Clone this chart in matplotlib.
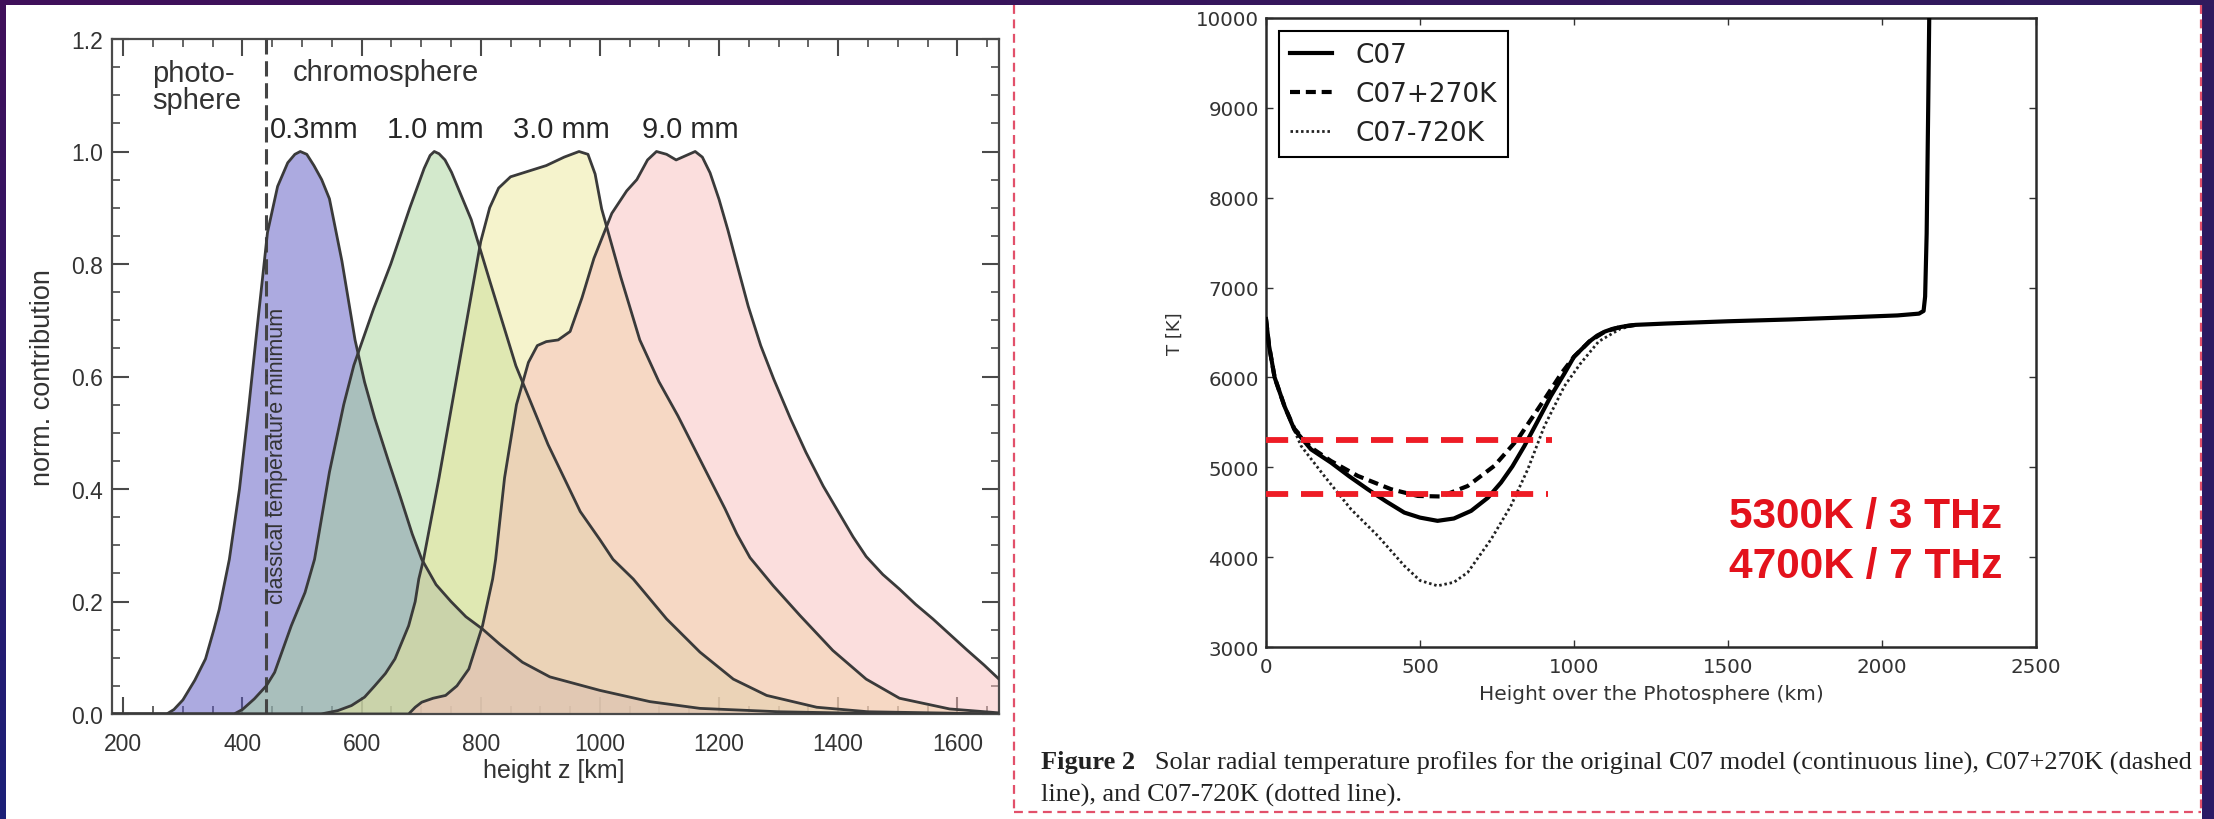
import numpy as np
import matplotlib
matplotlib.use("Agg")
import matplotlib.pyplot as plt
from matplotlib.patches import Rectangle
from matplotlib.ticker import MultipleLocator, FormatStrFormatter

# ---------------- data: normalised contribution functions ----------------
band_labels = ["0.3mm", "1.0 mm", "3.0 mm", "9.0 mm"]

h_03 = [180, 273, 285, 300, 320, 338, 352, 361, 378, 395, 410, 425, 442, 459, 476,
        488, 497, 508, 520, 533, 546, 567, 589, 605, 622, 645, 665, 685, 701, 725,
        750, 775, 803, 832, 870, 916, 1000, 1084, 1168, 1300, 1450, 1670]
c_03 = [0, 0, 0.008, 0.025, 0.06, 0.098, 0.15, 0.186, 0.275, 0.40, 0.54, 0.69,
        0.856, 0.938, 0.98, 0.995, 1.0, 0.995, 0.975, 0.95, 0.916, 0.805, 0.665,
        0.59, 0.526, 0.45, 0.386, 0.32, 0.275, 0.23, 0.2, 0.173, 0.151, 0.124,
        0.092, 0.066, 0.042, 0.022, 0.01, 0.004, 0.001, 0]

h_10 = [180, 386, 400, 420, 440, 454, 482, 505, 521, 546, 570, 587, 620, 649, 681,
        705, 715, 722, 730, 740, 751, 784, 816, 859, 913, 967, 1000, 1022, 1056,
        1112, 1168, 1224, 1280, 1364, 1450, 1670]
c_10 = [0, 0, 0.008, 0.027, 0.05, 0.074, 0.157, 0.216, 0.275, 0.43, 0.55, 0.62,
        0.72, 0.80, 0.90, 0.97, 0.993, 1.0, 0.996, 0.985, 0.963, 0.879, 0.767,
        0.619, 0.479, 0.36, 0.31, 0.275, 0.24, 0.169, 0.11, 0.062, 0.033, 0.012,
        0.004, 0]

h_30 = [180, 532, 560, 583, 605, 622, 640, 656, 679, 690, 696, 704, 730, 755, 780,
        800, 815, 830, 850, 880, 910, 940, 965, 980, 992, 1003, 1035, 1067, 1099,
        1131, 1174, 1210, 1230, 1252, 1291, 1336, 1391, 1447, 1503, 1587, 1670]
c_30 = [0, 0, 0.006, 0.015, 0.03, 0.05, 0.072, 0.098, 0.157, 0.2, 0.24, 0.275,
        0.42, 0.57, 0.72, 0.84, 0.9, 0.935, 0.955, 0.965, 0.975, 0.99, 1.0, 0.995,
        0.96, 0.898, 0.777, 0.665, 0.591, 0.53, 0.44, 0.365, 0.32, 0.278, 0.228,
        0.175, 0.113, 0.062, 0.028, 0.009, 0.002]

h_90 = [180, 679, 690, 701, 720, 741, 760, 780, 803, 820, 825, 840, 860, 880, 895,
        910, 930, 950, 970, 990, 1020, 1045, 1062, 1080, 1095, 1112, 1128, 1145,
        1160, 1172, 1185, 1200, 1215, 1230, 1249, 1270, 1292, 1320, 1346, 1375,
        1400, 1425, 1447, 1475, 1503, 1530, 1559, 1587, 1615, 1645, 1670]
c_90 = [0, 0, 0.012, 0.021, 0.028, 0.033, 0.05, 0.08, 0.157, 0.24, 0.275, 0.42,
        0.55, 0.625, 0.655, 0.662, 0.665, 0.68, 0.74, 0.81, 0.89, 0.93, 0.95,
        0.985, 1.0, 0.995, 0.985, 0.993, 1.0, 0.99, 0.962, 0.915, 0.86, 0.80,
        0.725, 0.655, 0.595, 0.525, 0.465, 0.405, 0.36, 0.315, 0.28, 0.248,
        0.222, 0.195, 0.169, 0.142, 0.115, 0.087, 0.062]

temp_min_height = 440

# ---------------- data: C07 temperature profiles ----------------
c07_h = [0, 10, 28, 60, 92, 146, 211, 270, 330, 390, 449, 500, 557, 610, 666, 720,
         763, 800, 839, 880, 925, 970, 1000, 1050, 1075, 1100, 1125, 1150, 1175,
         1200, 1300, 1500, 1700, 1900, 2050, 2120, 2135, 2140, 2145, 2150, 2155]
c07_T = [6650, 6350, 6000, 5680, 5420, 5200, 5052, 4900, 4756, 4620, 4496, 4440,
         4404, 4430, 4515, 4660, 4830, 5010, 5237, 5500, 5793, 6050, 6230, 6400,
         6465, 6510, 6540, 6560, 6575, 6585, 6600, 6625, 6645, 6670, 6690, 6710,
         6740, 6900, 7600, 9000, 10500]

c07p_h = [0, 10, 28, 60, 92, 146, 211, 298, 406, 493, 568, 655, 741, 817, 904,
          960, 1000, 1050, 1100, 1150, 1200]
c07p_T = [6650, 6350, 6000, 5680, 5430, 5220, 5070, 4904, 4756, 4681, 4675, 4792,
          5015, 5311, 5756, 6050, 6230, 6400, 6510, 6560, 6585]

c07m_h = [0, 10, 28, 60, 92, 114, 189, 276, 363, 449, 500, 557, 610, 655, 731,
          795, 850, 904, 969, 1020, 1080, 1150, 1200]
c07m_T = [6650, 6350, 6000, 5680, 5410, 5237, 4904, 4533, 4237, 3904, 3740, 3681,
          3720, 3830, 4200, 4570, 4978, 5459, 5904, 6150, 6400, 6540, 6585]

tb_levels = [5300, 4700]
tb_freqs = ["3 THz", "7 THz"]
tb_extent = [930, 915]

# ---------------- figure & slide background ----------------
W, H = 2214, 820
fig = plt.figure(figsize=(W / 100, H / 100), dpi=100)


def box(x0, y0, x1, y1):
    return [x0 / W, 1 - y1 / H, (x1 - x0) / W, (y1 - y0) / H]


bg = fig.add_axes([0, 0, 1, 1])
bg.set_xlim(0, W)
bg.set_ylim(H, 0)
bg.axis("off")
tl = np.array([0x40, 0x10, 0x5a]) / 255
bl = np.array([0x1c, 0x20, 0x78]) / 255
tr = np.array([0x2f, 0x1b, 0x5e]) / 255
br = np.array([0x2a, 0x1a, 0x66]) / 255
gy, gx = np.mgrid[0:1:60j, 0:1:120j]
grad = ((1 - gx)[..., None] * ((1 - gy)[..., None] * tl + gy[..., None] * bl)
        + gx[..., None] * ((1 - gy)[..., None] * tr + gy[..., None] * br))
bg.imshow(grad, extent=(0, W, H, 0), aspect="auto", interpolation="bilinear")
bg.add_patch(Rectangle((6, 6), 1009, H, facecolor="white", edgecolor="none"))
bg.add_patch(Rectangle((1015, 6), 1187, H, facecolor="white", edgecolor="none"))
red_border = dict(color="#e2506a", lw=1.6, linestyle=(0, (4, 2.5)))
bg.plot([1014, 1014], [6, 813], **red_border)
bg.plot([1014, 2201], [813, 813], **red_border)
bg.plot([2201, 2201], [6, 813], **red_border)

# ---------------- left chart: contribution functions ----------------
sans = "Liberation Sans"
ink = "#333333"
ax1 = fig.add_axes(box(112, 40, 999, 715))
fills = ["#5b56c2", "#a8d49a", "#ece89a", "#f8bfbd"]
curves = [(h_03, c_03), (h_10, c_10), (h_30, c_30), (h_90, c_90)]
for (hh, cc), col in zip(curves, fills):
    ax1.fill_between(hh, 0, cc, color=col, alpha=0.5, lw=0, zorder=2)
for hh, cc in curves:
    ax1.plot(hh, cc, color="#3a3a3a", lw=2.0, zorder=4, solid_joinstyle="round")

ax1.axvline(temp_min_height, color="#444444", lw=2.2, linestyle=(0, (5, 2.2)), zorder=3)
ax1.text(temp_min_height + 18, 0.46, "classical temperature minimum", rotation=90,
         ha="center", va="center", fontsize=15.5, family=sans, color=ink, zorder=5)

ax1.text(248, 1.165, "photo-\nsphere", ha="left", va="top", fontsize=21,
         family=sans, color=ink, linespacing=0.95)
ax1.text(485, 1.142, "chromosphere", ha="left", va="center", fontsize=21,
         family=sans, color=ink)
for lab, xc in zip(band_labels, [521, 724, 936, 1152]):
    ax1.text(xc, 1.04, lab, ha="center", va="center", fontsize=21,
             family=sans, color="#262626")

ax1.set_xlim(181, 1670)
ax1.set_ylim(0, 1.2)
ax1.xaxis.set_major_locator(MultipleLocator(200))
ax1.xaxis.set_minor_locator(MultipleLocator(50))
ax1.yaxis.set_major_locator(MultipleLocator(0.2))
ax1.yaxis.set_minor_locator(MultipleLocator(0.05))
ax1.yaxis.set_major_formatter(FormatStrFormatter("%.1f"))
ax1.tick_params(which="both", direction="in", top=True, right=True,
                color="#4a4a4a", labelcolor=ink, labelsize=16.5)
ax1.tick_params(which="major", length=12, width=1.5)
ax1.tick_params(which="minor", length=6, width=1.2)
ax1.tick_params(axis="x", pad=13)
ax1.tick_params(axis="y", pad=6.5)
for lab in ax1.get_xticklabels() + ax1.get_yticklabels():
    lab.set_family(sans)
for s in ax1.spines.values():
    s.set_color("#4a4a4a")
    s.set_linewidth(1.6)
ax1.set_xlabel("height z [km]", fontsize=18, family=sans, color=ink)
ax1.set_ylabel("norm. contribution", fontsize=19.5, family=sans, color=ink)
ax1.xaxis.label.set_va("center")
ax1.yaxis.label.set_va("center")
ax1.xaxis.set_label_coords(0.498, -0.083)
ax1.yaxis.set_label_coords(-0.078, 0.5)

# ---------------- right chart: temperature profiles ----------------
dv = "DejaVu Sans"
ax2 = fig.add_axes(box(1266, 19, 2036, 648))
ax2.plot(c07_h, c07_T, color="black", lw=3.0, label="C07", zorder=4)
ax2.plot(c07p_h, c07p_T, color="black", lw=3.0, linestyle=(0, (2.4, 1.4)),
         label="C07+270K", zorder=3)
ax2.plot(c07m_h, c07m_T, color="#222222", lw=2.0, linestyle=(0, (0.9, 1.0)),
         label="C07-720K", zorder=3)
for lvl, ext in zip(tb_levels, tb_extent):
    ax2.plot([0, ext], [lvl, lvl], color="#ee1c25", lw=4.2,
             linestyle=(0, (3.8, 2.2)), zorder=6)
for i, (lvl, f) in enumerate(zip(tb_levels, tb_freqs)):
    ax2.text(2390, 4456 - i * 556, f"{lvl}K / {f}", ha="right", va="center",
             fontsize=30.5, fontweight="bold", family=sans, color="#e3121c", zorder=7)

ax2.set_xlim(0, 2500)
ax2.set_ylim(3000, 10000)
ax2.xaxis.set_major_locator(MultipleLocator(500))
ax2.yaxis.set_major_locator(MultipleLocator(1000))
ax2.tick_params(direction="in", top=True, right=True, length=5, width=1,
                color="#333333", labelcolor="#333333", labelsize=14.3)
ax2.tick_params(axis="x", pad=7)
ax2.tick_params(axis="y", pad=5)
for lab in ax2.get_xticklabels() + ax2.get_yticklabels():
    lab.set_family(dv)
for s in ax2.spines.values():
    s.set_color("#2a2a2a")
    s.set_linewidth(1.8)
ax2.set_xlabel("Height over the Photosphere (km)", fontsize=14.5, family=dv,
               color="#333333")
ax2.set_ylabel("T [K]", fontsize=13, family=dv, color="#333333")
ax2.xaxis.label.set_va("center")
ax2.yaxis.label.set_va("center")
ax2.xaxis.set_label_coords(0.5, -0.0747)
ax2.yaxis.set_label_coords(-0.118, 0.5)

leg = ax2.legend(loc="upper left", frameon=True, fancybox=False,
                 framealpha=1, edgecolor="black", borderpad=0.4,
                 labelspacing=0.5, handlelength=1.6, handletextpad=0.9,
                 borderaxespad=0.5, prop={"family": dv, "size": 19})
leg.get_frame().set_linewidth(1.5)
for t in leg.get_texts():
    t.set_color("#222222")

# caption below the temperature chart
serif = "Liberation Serif"
cap1 = fig.text(1041 / W, 1 - 763 / H, "Figure 2", fontsize=19, family=serif,
                fontweight="bold", va="center", ha="left", color="#222222")
bg.annotate("   Solar radial temperature profiles for the original C07 model "
            "(continuous line), C07+270K (dashed", xy=(1, 0.5), xycoords=cap1,
            fontsize=19, family=serif, color="#222222", ha="left", va="center")
fig.text(1041 / W, 1 - 795 / H, "line), and C07-720K (dotted line).", fontsize=19,
         family=serif, color="#222222", va="center", ha="left")

fig.savefig("out.png", dpi=100)
